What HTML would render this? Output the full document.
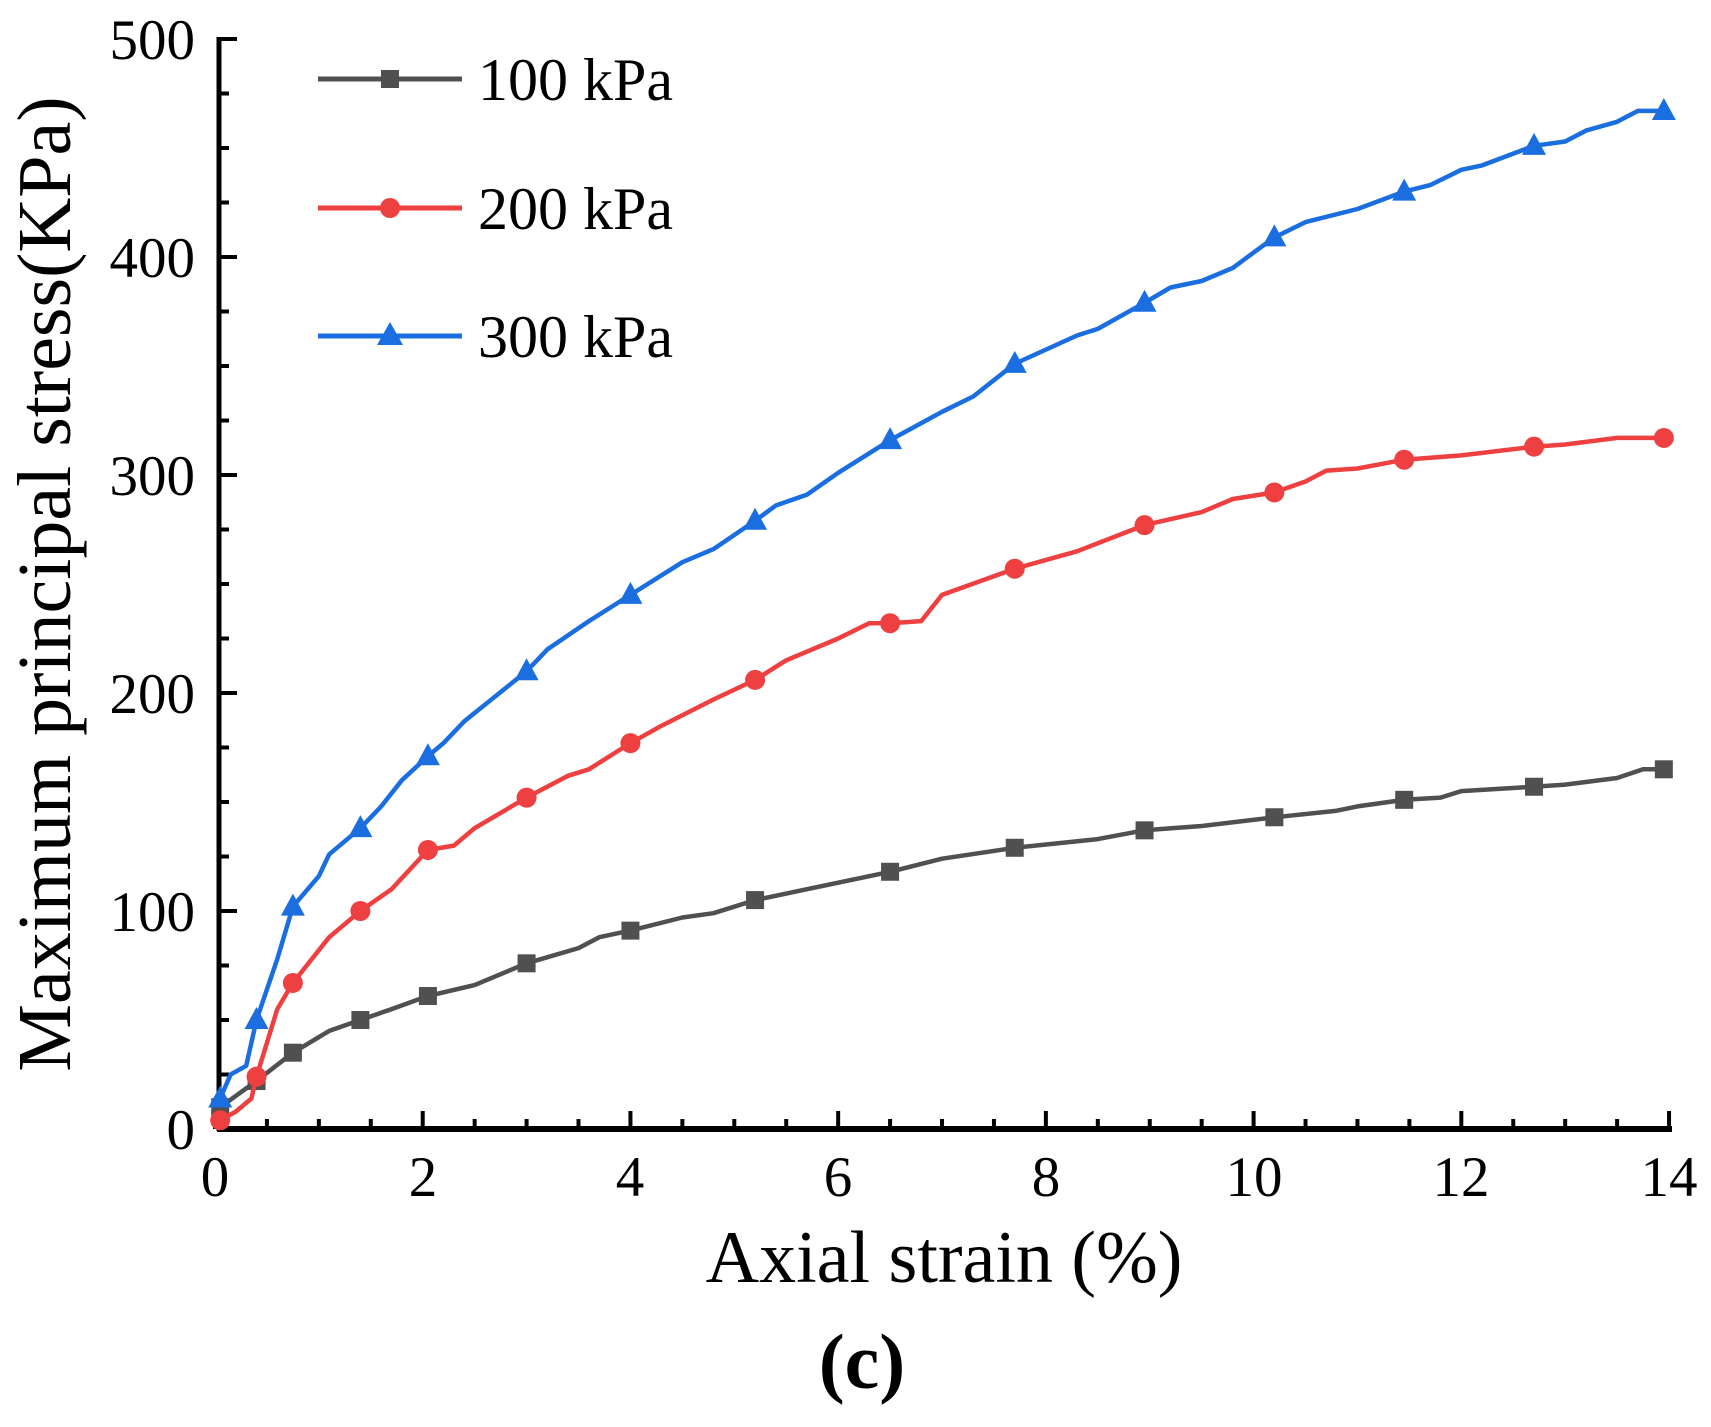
<!DOCTYPE html>
<html><head><meta charset="utf-8"><style>
html,body{margin:0;padding:0;background:#fff;}
svg{display:block;font-family:"Liberation Serif",serif;}
</style></head><body>
<svg id="s" width="1711" height="1427" viewBox="0 0 1711 1427" xmlns="http://www.w3.org/2000/svg">
<g id="ticks" stroke="#000" stroke-width="4"></g>
<line x1="219" y1="37" x2="219" y2="1131" stroke="#000" stroke-width="5"/>
<line x1="217" y1="1129" x2="1672" y2="1129" stroke="#000" stroke-width="6"/>
<g font-size="57" text-anchor="end">
<text x="195" y="1149">0</text>
<text x="195" y="931">100</text>
<text x="195" y="713">200</text>
<text x="195" y="495">300</text>
<text x="195" y="277">400</text>
<text x="195" y="59">500</text>
</g>
<g font-size="57" text-anchor="middle">
<text x="215" y="1196">0</text>
<text x="423" y="1196">2</text>
<text x="630" y="1196">4</text>
<text x="838" y="1196">6</text>
<text x="1046" y="1196">8</text>
<text x="1254" y="1196">10</text>
<text x="1461" y="1196">12</text>
<text x="1669" y="1196">14</text>
</g>
<text x="944" y="1282" font-size="74" text-anchor="middle">Axial strain (%)</text>
<text transform="translate(70,584) rotate(-90)" font-size="76" text-anchor="middle">Maximum principal stress(KPa)</text>
<text x="862" y="1388" font-size="78" text-anchor="middle" font-weight="bold">(c)</text>
<g id="plot"></g>
<g font-size="60">
<line x1="318" y1="79" x2="462" y2="79" stroke="#505050" stroke-width="5"/>
<rect x="381" y="70" width="18" height="18" fill="#505050"/>
<text x="478" y="100">100 kPa</text>
<line x1="318" y1="208" x2="462" y2="208" stroke="#ee4040" stroke-width="5"/>
<circle cx="390" cy="208" r="10" fill="#ee4040"/>
<text x="478" y="229">200 kPa</text>
<line x1="318" y1="336" x2="462" y2="336" stroke="#1a6ee0" stroke-width="5"/>
<polygon points="390,322 377,345 403,345" fill="#1a6ee0"/>
<text x="478" y="357">300 kPa</text>
</g>
</svg>
<script>
function X(v){return 215+v*103.86;} function Y(s){return 1129-s*2.18;}
var t=document.getElementById("ticks"),h="";
for(var i=0;i<=28;i++){var x=X(i*0.5),L=(i%4==0)?18:10;h+='<line x1="'+x+'" y1="1129" x2="'+x+'" y2="'+(1129-L)+'"/>';}
for(var j=0;j<=20;j++){var y=Y(j*25),L=(j%4==0)?18:10;h+='<line x1="219" y1="'+y+'" x2="'+(219+L)+'" y2="'+y+'"/>';}
t.innerHTML=h;
var bk=[[0.05,10],[0.4,22],[0.75,35],[1.1,45],[1.4,50],[1.7,55],[2.05,61],[2.5,66],[3,76],[3.5,83],[3.7,88],[4,91],[4.5,97],[4.8,99],[5.2,105],[5.7,110],[6.5,118],[7,124],[7.7,129],[8.5,133],[8.95,137],[9.5,139],[10.2,143],[10.8,146],[11,148],[11.45,151],[11.8,152],[12,155],[12.7,157],[13,158],[13.5,161],[13.75,165],[13.95,165]];
var rd=[[0.05,4],[0.2,8],[0.35,14],[0.4,24],[0.6,55],[0.75,67],[1.1,88],[1.4,100],[1.7,110],[2.05,128],[2.3,130],[2.5,138],[3,152],[3.4,162],[3.6,165],[4,177],[4.3,185],[4.8,197],[5.2,206],[5.5,215],[6,225],[6.3,232],[6.5,232],[6.8,233],[7,245],[7.7,257],[8.3,265],[8.95,277],[9.5,283],[9.8,289],[10.2,292],[10.5,297],[10.7,302],[11,303],[11.45,307],[12,309],[12.7,313],[13,314],[13.5,317],[13.95,317]];
var bl=[[0.05,14],[0.15,25],[0.3,29],[0.4,50],[0.6,78],[0.75,102],[1,116],[1.1,126],[1.4,138],[1.6,148],[1.8,160],[2.05,171],[2.2,177],[2.4,187],[3,210],[3.2,220],[3.6,233],[4,245],[4.5,260],[4.8,266],[5.2,279],[5.4,286],[5.7,291],[6,301],[6.5,316],[7,329],[7.3,336],[7.7,351],[8.3,364],[8.5,367],[8.95,379],[9.2,386],[9.5,389],[9.8,395],[10,402],[10.2,409],[10.5,416],[11,422],[11.45,430],[11.7,433],[12,440],[12.2,442],[12.7,451],[13,453],[13.2,458],[13.5,462],[13.7,467],[13.95,467]];
var mk=[0.05,0.4,0.75,1.4,2.05,3,4,5.2,6.5,7.7,8.95,10.2,11.45,12.7,13.95];
function interp(d,v){for(var k=0;k<d.length-1;k++){if(v>=d[k][0]&&v<=d[k+1][0]){var f=(v-d[k][0])/(d[k+1][0]-d[k][0]||1);return d[k][1]+f*(d[k+1][1]-d[k][1]);}}return d[d.length-1][1];}
var p="";
function ser(d,c,type){
 p+='<polyline fill="none" stroke="'+c+'" stroke-width="4.5" stroke-linejoin="round" points="'+d.map(function(a){return X(a[0]).toFixed(1)+','+Y(a[1]).toFixed(1)}).join(' ')+'"/>';
 mk.forEach(function(v){var x=X(v),y=Y(interp(d,v));
  if(type==0)p+='<rect x="'+(x-9)+'" y="'+(y-9)+'" width="18" height="18" fill="'+c+'"/>';
  else if(type==1)p+='<circle cx="'+x+'" cy="'+y+'" r="10" fill="'+c+'"/>';
  else p+='<polygon points="'+x+','+(y-13)+' '+(x-12)+','+(y+9)+' '+(x+12)+','+(y+9)+'" fill="'+c+'"/>';});
}
ser(bk,"#505050",0);ser(rd,"#ee4040",1);ser(bl,"#1a6ee0",2);
document.getElementById("plot").innerHTML=p;
</script>
</body></html>
